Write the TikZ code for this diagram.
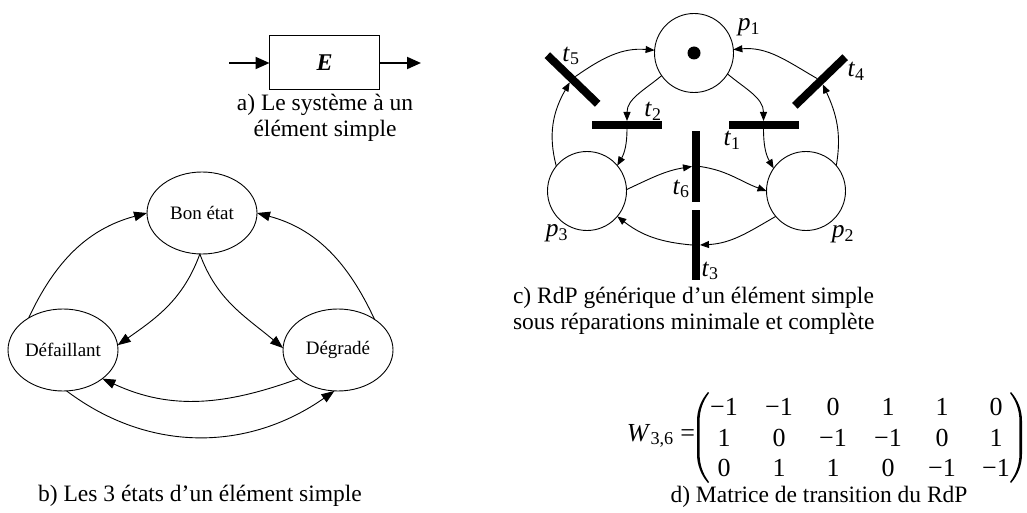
\documentclass[tikz,border=0pt]{standalone}
\usepackage{fontspec}
\setmainfont{Liberation Serif}
\usetikzlibrary{shapes.geometric,arrows.meta}
\newcommand\pnlab[2]{\textit{#1}\textsubscript{#2}}
\begin{document}
\begin{tikzpicture}[x=1pt,y=-1pt,
  every node/.style={inner sep=0pt, outer sep=0pt},
  capt/.style={font=\fontsize{23.5}{26}\selectfont, align=center},
  state/.style={ellipse, draw, line width=0.9pt, minimum width=110pt, minimum height=82pt, font=\fontsize{19}{22}\selectfont},
  place/.style={circle, draw, line width=0.9pt, minimum size=79pt},
  htrans/.style={rectangle, fill=black, minimum width=70pt, minimum height=8pt},
  vtrans/.style={rectangle, fill=black, minimum width=8pt, minimum height=70pt},
  lbl/.style={font=\fontsize{25.5}{27}\selectfont},
  mtx/.style={font=\fontsize{26}{28}\selectfont},
  pnarc/.style={line width=0.9pt, -{Triangle[length=9pt,width=7pt]}},
  starc/.style={line width=0.9pt, -{Triangle[length=13pt,width=9.5pt]}},
  bigarrow/.style={line width=2pt,-{Triangle[length=14pt,width=12pt]}},
  paren/.style={fill=black}
]
\useasboundingbox (0,0) rectangle (1027,513);

% ---------- a) ----------
\node[draw, line width=1pt, minimum width=110pt, minimum height=54pt,
      font=\fontsize{24}{26}\selectfont\bfseries\itshape] (E) at (324.5,63) {E};
\coordinate (ein) at (229,63);
\coordinate (eout) at (421,63);
\draw[bigarrow] (ein) -- (E.west);
\draw[bigarrow] (E.east) -- (eout);
\node[capt] (capa) at (325,118) {a) Le système à un\\élément simple};

% ---------- b) ----------
\node[state] (bon) at (202,213) {Bon état};
\node[state] (def) at (63,350) {Défaillant};
\node[state] (deg) at (338,350) {Dégradé};
\draw[starc] (def.137) to[out=65, in=195] (bon.180);
\draw[starc] (deg.40) to[out=115, in=-15] (bon.0);
\draw[starc] (bon.267) to[out=250, in=35] (def.5);
\draw[starc] (bon.267) to[out=-70, in=140] (deg.178);
\draw[starc] (deg.216) to[out=200, in=-25] (def.-36);
\draw[starc] (def.275) to[out=-37, in=215] (deg.265);
\node[capt] (capb) at (200,496) {b) Les 3 états d’un élément simple};

% ---------- c) ----------
\node[place] (p1) at (694,53) {};
\node[place] (p3) at (587,191) {};
\node[place] (p2) at (806,191) {};
\node[circle, fill=black, minimum size=13pt] (tok) at (p1.center) {};
\node[htrans] (t2) at (627,125) {};
\node[htrans] (t1) at (763.5,125) {};
\node[vtrans] (t6) at (696,166.5) {};
\node[vtrans] (t3) at (696,245) {};
\node[htrans, rotate=-44] (t5) at (572.5,79.5) {};
\node[htrans, rotate=44] (t4) at (820,81.5) {};

\draw[pnarc] (p1.215) to[out=220, in=90] (t2.north);
\draw[pnarc] (t2.south) to[out=-90, in=60] (p3.40);
\draw[pnarc] (p1.-32) to[out=-40, in=90] (t1.north);
\draw[pnarc] (t1.south) to[out=-90, in=120] (p2.145);
\draw[pnarc] (p2.40) to[out=80, in=-65] (t4.south);
\draw[pnarc] (t4.north) to[out=150, in=5] (p1.5);
\draw[pnarc] (p3.141) to[out=105, in=-120] (t5.south);
\draw[pnarc] (t5.north) to[out=35, in=175] (p1.176);
\draw[pnarc] (p3.2) to[out=25, in=189] (t6.west);
\draw[pnarc] (t6.east) to[out=-8, in=160] (p2.180);
\draw[pnarc] (p2.220) to[out=210, in=3] (t3.east);
\draw[pnarc] (t3.west) to[out=175, in=-38] (p3.-40);

\node[lbl] (lp1) at (749,27) {\pnlab{p}{1}};
\node[lbl] (lp2) at (843,234) {\pnlab{p}{2}};
\node[lbl] (lp3) at (557,233) {\pnlab{p}{3}};
\node[lbl] (lt1) at (732,140) {\pnlab{t}{1}};
\node[lbl] (lt2) at (653,111) {\pnlab{t}{2}};
\node[lbl] (lt3) at (710,271) {\pnlab{t}{3}};
\node[lbl] (lt4) at (856,71) {\pnlab{t}{4}};
\node[lbl] (lt5) at (571,56) {\pnlab{t}{5}};
\node[lbl] (lt6) at (681,189) {\pnlab{t}{6}};
\node[capt, align=left, anchor=west] (capc) at (513,311) {c) RdP générique d’un élément simple\\sous réparations minimale et complète};

% ---------- d) ----------
\node[mtx, anchor=east] (W) at (695,436) {\textit{W}\textsubscript{3,6} =};
\foreach \r/\yy in {1/407,2/438,3/468}{
  \foreach \c/\xx in {1/724,2/779,3/833,4/888,5/942,6/996}{
    \coordinate (m\r\c) at (\xx,\yy);
  }
}
\foreach \name/\val in {m11/−1,m12/−1,m13/0,m14/1,m15/1,m16/0,
                        m21/1,m22/0,m23/−1,m24/−1,m25/0,m26/1,
                        m31/0,m32/1,m33/1,m34/0,m35/−1,m36/−1}{
  \node[mtx] (e\name) at (\name) {\val};
}
\fill[paren] (708,392) .. controls (701,400) and (697,410) .. (697,421) -- (697,454)
  .. controls (697,465) and (701,475) .. (708,483)
  -- (709,482) .. controls (703,474) and (699.6,465) .. (699.6,454) -- (699.6,421)
  .. controls (699.6,410) and (703,401) .. (709,393) -- cycle;
\fill[paren] (1011,392) .. controls (1018,400) and (1022,410) .. (1022,421) -- (1022,454)
  .. controls (1022,465) and (1018,475) .. (1011,483)
  -- (1010,482) .. controls (1016,474) and (1019.4,465) .. (1019.4,454) -- (1019.4,421)
  .. controls (1019.4,410) and (1016,401) .. (1010,393) -- cycle;
\node[capt] (capd) at (819,497) {d) Matrice de transition du RdP};
\end{tikzpicture}
\end{document}
